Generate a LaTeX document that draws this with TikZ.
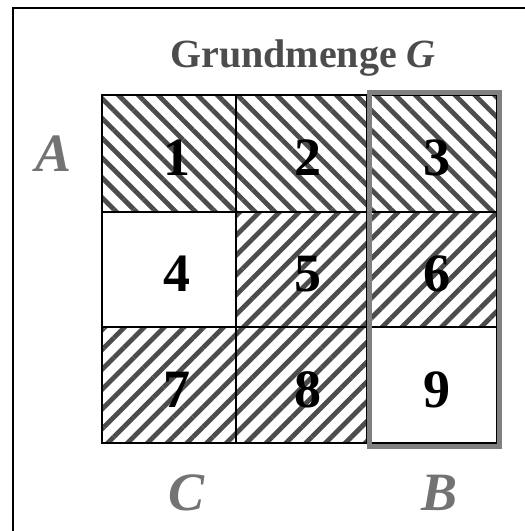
\documentclass[tikz,border=0pt]{standalone}
\usepackage{fontspec}
\setmainfont{Liberation Serif}
\usetikzlibrary{patterns.meta}

\begin{document}
\begin{tikzpicture}[x=0.5pt,y=-0.5pt,
  hatchdown/.style={pattern={Lines[angle=-45,distance=7pt,line width=2.4pt]},pattern color=black!70},
  hatchup/.style={pattern={Lines[angle=45,distance=7pt,line width=2.4pt]},pattern color=black!70},
  num/.style={font=\bfseries\fontsize{27}{27}\selectfont},
  setname/.style={font=\bfseries\itshape\fontsize{27}{27}\selectfont,text=black!55}]
  \useasboundingbox (0,0) rectangle (525,531);
  \draw[line width=1.3pt] (13,8) rectangle (560,560);
  % title
  \node[font=\bfseries\fontsize{20}{20}\selectfont,text=black!70] (title) at (303,58) {Grundmenge \textit{G}};
  % hatched cells
  \fill[hatchdown] (102,95) rectangle (497,212);
  \fill[hatchup] (236,212) rectangle (497,327);
  \fill[hatchup] (102,327) rectangle (367,443);
  % grid
  \draw[line width=0.8pt] (102,95) rectangle (497,443);
  \foreach \x in {236,367} \draw[line width=0.8pt] (\x,95) -- (\x,443);
  \foreach \y in {212,327} \draw[line width=0.8pt] (102,\y) -- (497,\y);
  % set B
  \draw[black!50,line width=2.5pt] (369,92) rectangle (499,446);
  % numbers
  \foreach \n/\x/\y in {1/177/158,2/308/158,3/437/158,4/177/274,5/308/274,6/437/274,7/177/390,8/308/390,9/437/390}
    \node[num] (n\n) at (\x,\y) {\n};
  % set labels
  \node[setname] (A) at (54,154) {A};
  \node[setname] (C) at (187,493) {C};
  \node[setname] (B) at (440,493) {B};
\end{tikzpicture}
\end{document}
